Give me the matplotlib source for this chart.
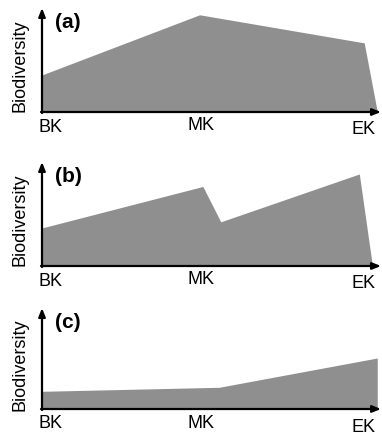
import numpy as np
import matplotlib
matplotlib.use("Agg")
from matplotlib import pyplot as plt

plt.rcParams['font.family'] = ['Liberation Sans', 'DejaVu Sans']

# stages along the x axis (BK = 0, MK = 1, EK = 2)
stages = ["BK", "MK", "EK"]
panel_names = ["(a)", "(b)", "(c)"]

# outline of each grey area: x positions and biodiversity values (0-10)
a_x = [0.0, 0.0, 0.97, 1.98, 2.06]
a_y = [0.0, 3.5, 9.3, 6.6, 0.0]

b_x = [0.0, 0.0, 0.99, 1.10, 1.95, 2.03]
b_y = [0.0, 3.6, 7.6, 4.2, 8.8, 0.0]

c_x = [0.0, 0.0, 1.09, 2.06, 2.06]
c_y = [0.0, 1.7, 2.1, 5.0, 0.0]

shapes = [(a_x, a_y), (b_x, b_y), (c_x, c_y)]

fig = plt.figure(figsize=(3.82, 4.34), dpi=100)
W, H = 382, 434
# axes boxes in pixels: (left, top, right, bottom)
boxes = [(42, 8, 381, 112), (42, 162, 381, 266), (42, 308, 381, 409)]

for (px, py), name, (l, t, r, b) in zip(shapes, panel_names, boxes):
    ax = fig.add_axes([l / W, 1 - b / H, (r - l) / W, (b - t) / H])
    ax.fill(px, py, color="#8f8f8f", lw=0, clip_on=False)
    ax.set_xlim(0, 2.08)
    ax.set_ylim(0, 10)
    ax.axis("off")
    # arrowed axes
    arrow = dict(arrowstyle="-|>,head_length=0.5,head_width=0.2", color="black",
                 lw=1.6, shrinkA=0, shrinkB=0)
    ax.annotate("", xy=(0, 1), xytext=(0, -0.01), xycoords="axes fraction", arrowprops=arrow)
    ax.annotate("", xy=(1, 0), xytext=(-0.003, 0), xycoords="axes fraction", arrowprops=arrow)
    ax.text(0.077, 0.86, name, transform=ax.transAxes, fontsize=15, fontweight="bold",
            ha="center", va="center")
    ax.text(-22 / (r - l), 0.44, "Biodiversity", transform=ax.transAxes, fontsize=13,
            rotation=90, ha="center", va="center")
    for lab, xpos, dy in zip(stages, [0.05, 0.975, 1.975], [-15, -14, -18]):
        ax.annotate(lab, xy=(xpos, 0), xytext=(0, dy), textcoords="offset pixels",
                    fontsize=13, ha="center", va="center")

fig.savefig("out.png", dpi=100)
